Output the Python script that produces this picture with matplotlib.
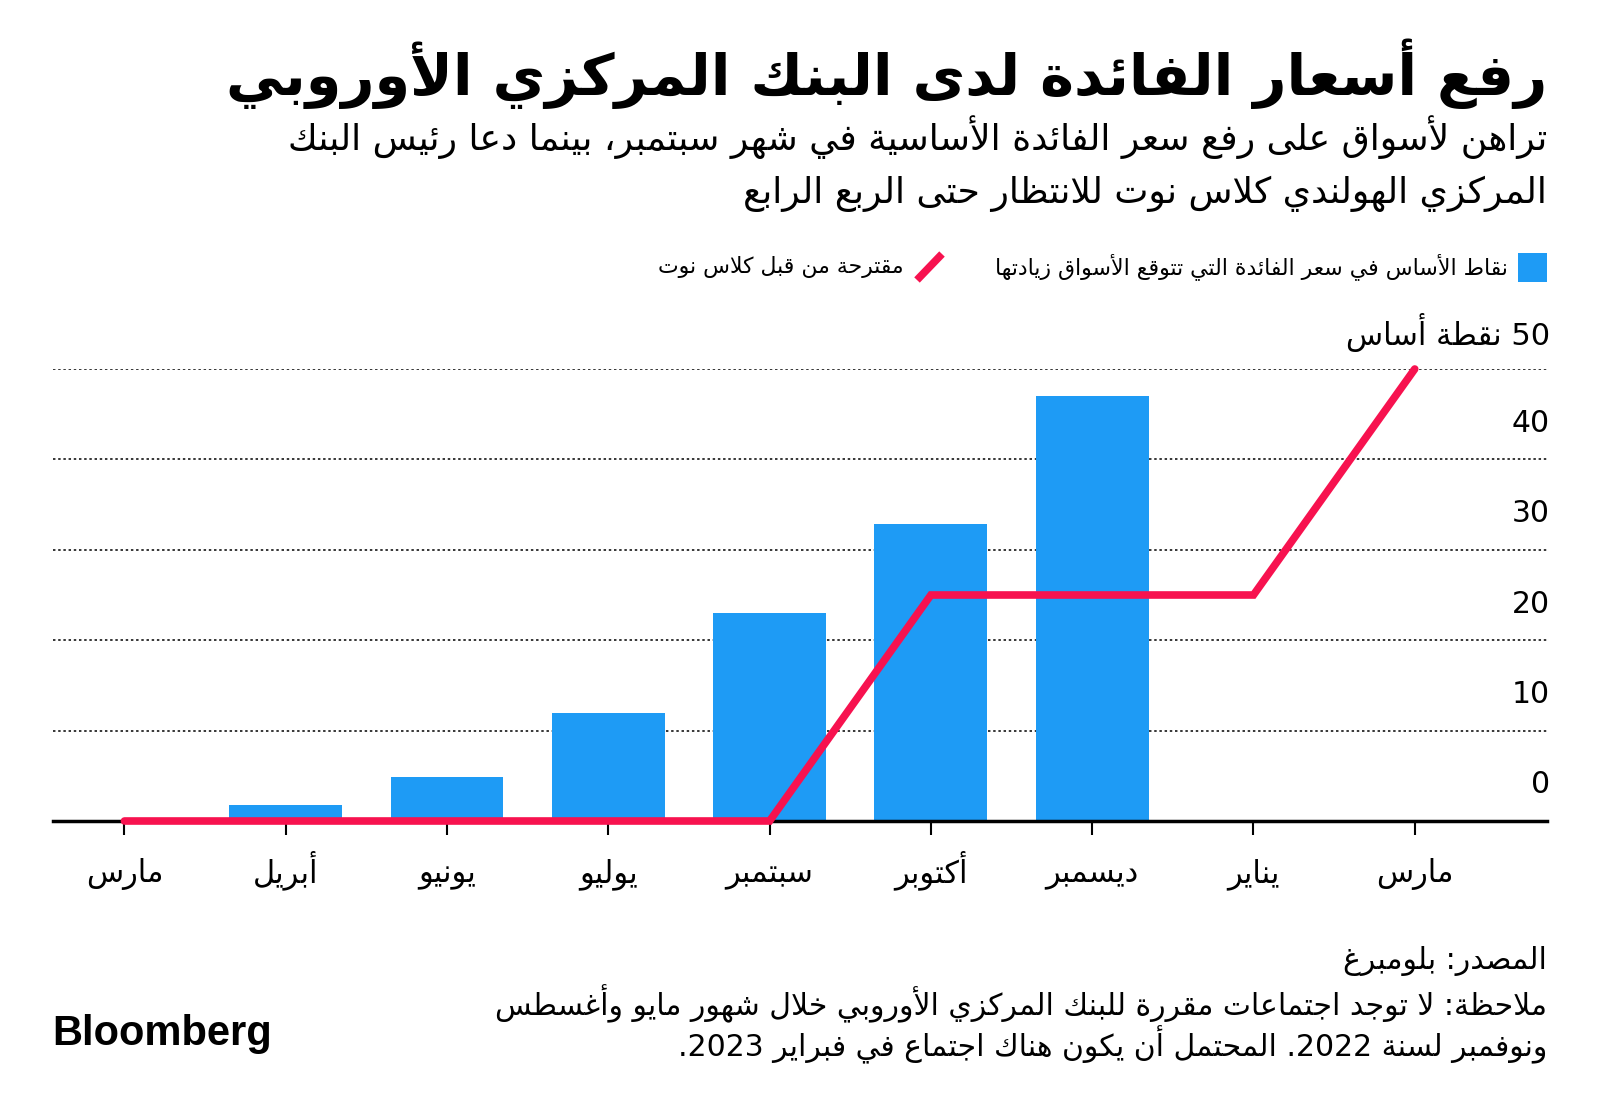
"""ECB rate hike expectations chart (Arabic, Bloomberg style)."""

import re
import matplotlib
matplotlib.use('Agg')
import matplotlib.pyplot as plt
from matplotlib.patches import Rectangle
from matplotlib.lines import Line2D

plt.rcParams['font.family'] = ['DejaVu Sans']

# ---- data -------------------------------------------------------------
months = ['مارس', 'أبريل', 'يونيو', 'يوليو', 'سبتمبر', 'أكتوبر', 'ديسمبر', 'يناير', 'مارس']
market_bp = [0, 1.8, 4.9, 12.0, 23.0, 32.8, 47.0]        # blue bars
knot_bp = [0, 0, 0, 0, 0, 25, 25, 25, 50]                # red line
y_ticks = [0, 10, 20, 30, 40]
y_top = 50

title = 'رفع أسعار الفائدة لدى البنك المركزي الأوروبي'
subtitle = ['تراهن لأسواق على رفع سعر الفائدة الأساسية في شهر سبتمبر، بينما دعا رئيس البنك',
            'المركزي الهولندي كلاس نوت للانتظار حتى الربع الرابع']
legend_bar = 'نقاط الأساس في سعر الفائدة التي تتوقع الأسواق زيادتها'
legend_line = 'مقترحة من قبل كلاس نوت'
y_unit = '50 نقطة أساس'
footer = ['المصدر: بلومبرغ',
          'ملاحظة: لا توجد اجتماعات مقررة للبنك المركزي الأوروبي خلال شهور مايو وأغسطس',
          'ونوفمبر لسنة 2022. المحتمل أن يكون هناك اجتماع في فبراير 2023.']

BLUE = '#1e9bf5'
RED = '#f7124f'

# ---- minimal Arabic shaping + RTL ordering -----------------------------
_letters = [chr(c) for c in range(0x621, 0x63B)] + [chr(c) for c in range(0x641, 0x64B)]
_two = set('آأؤإادذرزةوى')
_forms = {}
_code = 0xFE80
for _ch in _letters:
    _n = 1 if _ch == 'ء' else 2 if _ch in _two else 4
    _forms[_ch] = (_code, _n)
    _code += _n
_lam_alef = {'آ': 0xFEF5, 'أ': 0xFEF7, 'إ': 0xFEF9, 'ا': 0xFEFB}


def ar(text):
    """Shape Arabic text and reorder it for left-to-right drawing."""
    toks = []
    i = 0
    while i < len(text):
        c = text[i]
        if c == 'ل' and i + 1 < len(text) and text[i + 1] in _lam_alef:
            toks.append(('la', _lam_alef[text[i + 1]]))
            i += 2
        else:
            toks.append(('ch', c))
            i += 1

    def kind(t):
        if t[0] == 'la':
            return 2
        return _forms[t[1]][1] if t[1] in _forms else 0

    out = []
    for j, t in enumerate(toks):
        k = kind(t)
        if k < 2:
            out.append(t[1] if t[0] == 'ch' else chr(t[1]))
            continue
        p = j > 0 and kind(toks[j - 1]) == 4
        if t[0] == 'la':
            out.append(chr(t[1] + (1 if p else 0)))
            continue
        nx = k == 4 and j + 1 < len(toks) and kind(toks[j + 1]) >= 2
        form = 3 if (p and nx) else 1 if p else 2 if nx else 0
        out.append(chr(_forms[t[1]][0] + form))
    s = ''.join(out)[::-1]
    return re.sub(r'[0-9]+', lambda m: m.group(0)[::-1], s)


# ---- figure -------------------------------------------------------------
W, H = 1600, 1114
fig = plt.figure(figsize=(W / 100, H / 100), dpi=100)


def fx(px):
    return px / W


def fy(py):
    return 1 - py / H


R = fx(1547)
fig.text(R, fy(74), ar(title), ha='right', va='center', fontsize=41.4, fontweight='bold')
fig.text(R, fy(137), ar(subtitle[0]), ha='right', va='center', fontsize=26)
fig.text(R, fy(194), ar(subtitle[1]), ha='right', va='center', fontsize=26)

# legend
fig.patches.append(Rectangle((fx(1518), fy(282)), fx(29), 29 / H, transform=fig.transFigure,
                             facecolor=BLUE, edgecolor='none'))
fig.text(fx(1508), fy(267), ar(legend_bar), ha='right', va='center', fontsize=15.8)
fig.add_artist(Line2D([fx(917), fx(942)], [fy(280), fy(254)], transform=fig.transFigure,
                      color=RED, lw=5.5, solid_capstyle='butt'))
fig.text(fx(904), fy(267), ar(legend_line), ha='right', va='center', fontsize=15.8)

# axes
ax = fig.add_axes([fx(53), fy(821), fx(1547) - fx(53), (821 - 369) / H])
x = list(range(len(months)))
ax.bar(x[:len(market_bp)], market_bp, width=0.70, color=BLUE, zorder=2)
ax.plot(x, knot_bp, color=RED, lw=5.5, solid_capstyle='round', solid_joinstyle='miter',
        zorder=4, clip_on=False)

ax.set_xlim(-0.443, 8.82)
ax.set_ylim(0, y_top)
for v in y_ticks[1:] + [y_top]:
    ax.axhline(v, color='black', lw=1.1, ls=(0, (1.6, 1.8)), zorder=1)
for v in y_ticks:
    ax.text(1.002, v + 4.0, str(v), transform=ax.get_yaxis_transform(), ha='right',
            va='center', fontsize=21.5)
ax.text(1.002, y_top + 4.0, ar(y_unit), transform=ax.get_yaxis_transform(), ha='right',
        va='center', fontsize=22)

ax.set_xticks(x)
ax.set_xticklabels([])
for xi, m in zip(x, months):
    ax.text(xi, -0.135, ar(m), transform=ax.get_xaxis_transform(), ha='center',
            va='baseline', fontsize=22)
ax.set_yticks([])
ax.tick_params(axis='x', length=10, width=1.5, direction='out')
for s in ['left', 'right', 'top']:
    ax.spines[s].set_visible(False)
ax.spines['bottom'].set_linewidth(2.5)
ax.spines['bottom'].set_zorder(3)

# footer
fig.text(R, fy(961), ar(footer[0]), ha='right', va='center', fontsize=21.5)
fig.text(R, fy(1004), ar(footer[1]), ha='right', va='center', fontsize=21.5)
fig.text(R, fy(1045), ar(footer[2]), ha='right', va='center', fontsize=21.5)
fig.text(fx(52), fy(1034), 'Bloomberg', ha='left', va='center', fontsize=30,
         fontweight='bold', family=['Liberation Sans', 'DejaVu Sans'])

fig.savefig('out.png', dpi=100)
